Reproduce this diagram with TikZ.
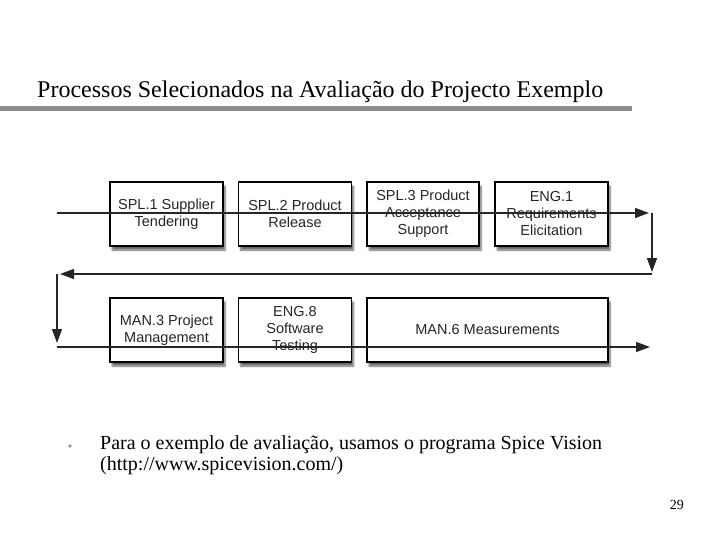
\documentclass[tikz,border=0pt]{standalone}
\usepackage{fontspec}
\setmainfont{Liberation Serif}
\setsansfont{Liberation Sans}
\usetikzlibrary{arrows.meta,shadows.blur}
\begin{document}
\begin{tikzpicture}[
        x=1pt, y=-1pt,
        >={Triangle[length=14pt,width=10pt]},
        proc/.style={draw, line width=1.1pt, fill=white,
                     minimum width=113pt, minimum height=64pt,
                     inner sep=0pt, align=center, text=black!85,
                     font=\sffamily\fontsize{14.5}{17}\selectfont,
                     blur shadow={shadow xshift=2pt, shadow yshift=-4pt,
                                  shadow blur steps=6, shadow opacity=60}},
        flow/.style={->, line width=1.5pt, black!85}
      ]
        \useasboundingbox (0,0) rectangle (720,540);

        % title and rule
        \node[anchor=base west, font=\fontsize{24}{28}\selectfont, inner sep=0pt]
          (title) at (37,98) {Processos Selecionados na Avaliação do Projecto Exemplo};
        \fill[black!45] (0,106) rectangle (632,111);

        % processes
        \node[proc] (spl1) at (166.5,214) {SPL.1 Supplier\\Tendering};
        \node[proc] (spl2) at (295,214) {SPL.2 Product\\Release};
        \node[proc, minimum width=112pt] (spl3) at (423,214)
          {SPL.3 Product\\Acceptance\\Support};
        \node[proc] (eng1) at (551.5,214) {ENG.1\\Requirements\\Elicitation};

        \node[proc] (man3) at (166.5,330) {MAN.3 Project\\Management};
        \node[proc] (eng8) at (295,330) {ENG.8\\Software\\Testing};
        \node[proc, minimum width=241pt] (man6) at (487.5,330) {MAN.6 Measurements};

        % flow
        \coordinate (in) at (57,213);
        \coordinate (ne) at (652,213);
        \coordinate (e) at (652,274);
        \coordinate (w) at (57,274);
        \coordinate (sw) at (57,347);
        \coordinate (out) at (650,347);

        \draw[flow, shorten >=3pt] (in) -- (ne);
        \draw[flow, shorten >=2pt] (ne) -- (e);
        \draw[flow, shorten >=3pt] (e) -- (w);
        \draw[flow, shorten >=4pt] (w) -- (sw);
        \draw[flow] (sw) -- (out);

        % bullet text
        \fill[black!40] (70,446) circle (1.8pt);
        \node[anchor=north west, align=left, inner sep=0pt,
              font=\fontsize{20}{21}\selectfont] (note) at (100,435)
          {Para o exemplo de avaliação, usamos o programa Spice Vision\\(http://www.spicevision.com/)};

        \node[anchor=base east, inner sep=0pt, font=\fontsize{14}{16}\selectfont]
          (page) at (684,509) {29};
      \end{tikzpicture}
\end{document}
